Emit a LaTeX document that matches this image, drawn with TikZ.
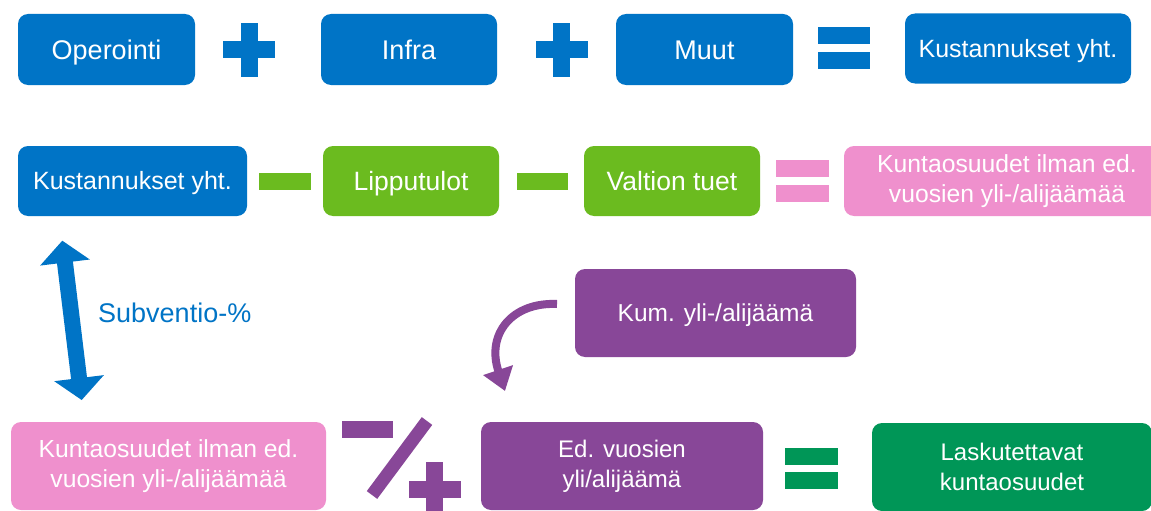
\documentclass[tikz,border=0pt]{standalone}
\usepackage{fontspec}
\setmainfont{Liberation Sans}
\usetikzlibrary{arrows.meta}
\definecolor{cblue}{RGB}{0,116,198}
\definecolor{cgreen}{RGB}{107,187,31}
\definecolor{cpink}{RGB}{239,144,205}
\definecolor{cpurple}{RGB}{136,71,152}
\definecolor{cdgreen}{RGB}{0,150,87}
\newcommand\myplus[3]{%
  \fill[#3] ({#1-26},{#2-8.5}) rectangle ({#1+26},{#2+8.5});
  \fill[#3] ({#1-8.5},{#2-27}) rectangle ({#1+8.5},{#2+27});}
\newcommand\mybar[4]{\fill[#4] (#1,{#3-8.5}) rectangle (#2,{#3+8.5});}
\tikzset{
  box/.style={rectangle, rounded corners=10pt, inner sep=0pt, text=white,
    align=center, font=\fontsize{24}{30}\selectfont},
  fs/.style={font=\fontsize{#1}{30}\selectfont},
  onefs/.style 2 args={font=\fontsize{#1}{30}\selectfont, text height=#2, text depth=0pt},
}
\begin{document}
\begin{tikzpicture}[x=1pt,y=-1pt]
\clip (0,0) rectangle (1151,511);
\fill[white] (0,0) rectangle (1151,511);
% row 1
\node[box, onefs={27}{19.3pt}, fill=cblue, minimum width=177pt, minimum height=71pt] (op) at (106.5,49.5) {Operointi};
\node[box, onefs={27}{19.3pt}, fill=cblue, minimum width=176pt, minimum height=71pt] (infra) at (409,49.5) {Infra};
\node[box, onefs={27}{19.3pt}, fill=cblue, minimum width=177pt, minimum height=71pt] (muut) at (704.5,49.5) {Muut};
\node[box, onefs={25}{17.9pt}, fill=cblue, minimum width=226pt, minimum height=70pt] (kust1) at (1018,48.5) {Kustannukset yht.};
\myplus{249}{50}{cblue}
\myplus{561.5}{50}{cblue}
\mybar{818}{870}{35.5}{cblue}
\mybar{818}{870}{60.5}{cblue}
% row 2
\node[box, onefs={25}{17.9pt}, fill=cblue, minimum width=229pt, minimum height=70pt] (kust2) at (132.5,181) {Kustannukset yht.};
\node[box, onefs={26.5}{19pt}, fill=cgreen, minimum width=176pt, minimum height=70pt] (lipp) at (411,181) {Lipputulot};
\node[box, onefs={26.5}{19pt}, fill=cgreen, minimum width=176pt, minimum height=70pt] (valt) at (672,181) {Valtion tuet};
\node[box, fs=24.7, fill=cpink, minimum width=326pt, minimum height=70pt] (pink1) at (1007,181) {Kuntaosuudet ilman ed.\\vuosien yli-/alijäämää};
\mybar{259}{311}{181.5}{cgreen}
\mybar{517}{568}{181.5}{cgreen}
\mybar{776}{829}{168.5}{cpink}
\mybar{776}{829}{193}{cpink}
% double arrow (Subventio)
\fill[cblue] (62.3,240.7) -- (89.78,259.5) -- (72.9,261.57) -- (86.98,377.19) -- (103.86,375.13)
  -- (81.7,400) -- (54.22,381.19) -- (71.1,379.13) -- (57.02,263.51) -- (40.14,265.57) -- cycle;
\node[text=cblue, anchor=west, inner sep=0pt, onefs={27}{19.3pt}] (sub) at (98,313) {Subventio-\%};
% row 3
\node[box, onefs={24.5}{17.5pt}, fill=cpurple, minimum width=281pt, minimum height=88pt] (kum) at (715.5,313) {Kum. yli-/alijäämä};
\coordinate (cs) at (557,304);
\coordinate (ce) at (505,391);
\draw[cpurple, line width=8pt, -{Triangle[width=30pt,length=22pt]}] (cs) .. controls (512,302) and (486,334) .. (ce);
% row 4
\node[box, fs=24.7, fill=cpink, minimum width=315pt, minimum height=88pt] (pink2) at (168.5,466) {Kuntaosuudet ilman ed.\\vuosien yli-/alijäämää};
\node[box, fill=cpurple, minimum width=282pt, minimum height=88pt] (ed) at (622,466) {Ed. vuosien\\yli/alijäämä};
\node[box, fill=cdgreen, minimum width=280pt, minimum height=88pt] (lask) at (1012,467) {Laskutettavat\\kuntaosuudet};
\mybar{342}{393}{429.5}{cpurple}
\draw[cpurple, line width=13pt] (372,495) -- (427,421);
\myplus{434.5}{489}{cpurple}
\mybar{785}{838}{456}{cdgreen}
\mybar{785}{838}{480.5}{cdgreen}
\end{tikzpicture}
\end{document}
